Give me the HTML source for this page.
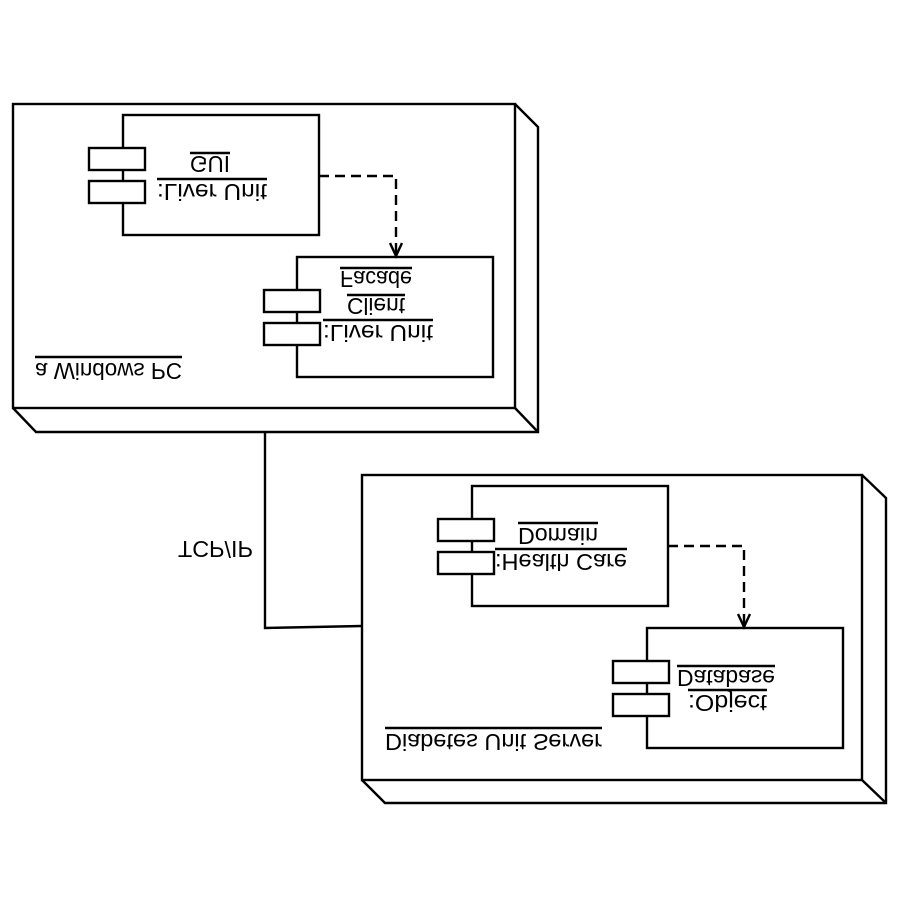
<!DOCTYPE html>
<html><head><meta charset="utf-8"><style>html,body{margin:0;padding:0;background:#fff}svg{display:block}</style></head>
<body>
<svg width="900" height="900" viewBox="0 0 900 900" xmlns="http://www.w3.org/2000/svg">
<rect width="900" height="900" fill="#fff"/>
<g fill="none" stroke="#000" stroke-width="2.4">
<rect x="13" y="104" width="502" height="304"/>
<polyline points="13,408 36,432 538,432 538,127 515,104"/>
<line x1="515" y1="408" x2="538" y2="432"/>
<rect x="123" y="115" width="196" height="120" fill="#fff"/>
<rect x="89" y="148" width="56" height="22" fill="#fff"/>
<rect x="89" y="181" width="56" height="22" fill="#fff"/>
<rect x="297" y="257" width="196" height="120" fill="#fff"/>
<rect x="264" y="290" width="56" height="22" fill="#fff"/>
<rect x="264" y="323" width="56" height="22" fill="#fff"/>
<rect x="362" y="475" width="500" height="305"/>
<polyline points="362,780 385,803 886,803 886,498 862,475"/>
<line x1="862" y1="780" x2="886" y2="803"/>
<rect x="472" y="486" width="196" height="120" fill="#fff"/>
<rect x="438" y="519" width="56" height="22" fill="#fff"/>
<rect x="438" y="552" width="56" height="22" fill="#fff"/>
<rect x="647" y="628" width="196" height="120" fill="#fff"/>
<rect x="613" y="661" width="56" height="22" fill="#fff"/>
<rect x="613" y="694" width="56" height="22" fill="#fff"/>
<polyline points="265,432 265,628 362,626"/>
<polyline points="319,176 396,176 396,255" stroke-dasharray="10,6"/>
<polyline points="390,243 396,256 402,243"/>
<polyline points="668,546 744,546 744,626" stroke-dasharray="10,6"/>
<polyline points="738,614 744,627 750,614"/>
<line x1="190" y1="153" x2="230" y2="153"/>
<line x1="157" y1="179" x2="267" y2="179"/>
<line x1="340" y1="268" x2="412" y2="268"/>
<line x1="347" y1="295" x2="405" y2="295"/>
<line x1="323" y1="320" x2="433" y2="320"/>
<line x1="35" y1="357" x2="182" y2="357"/>
<line x1="518" y1="523" x2="598" y2="523"/>
<line x1="495" y1="549" x2="627" y2="549"/>
<line x1="677" y1="666" x2="775" y2="666"/>
<line x1="688" y1="690" x2="767" y2="690"/>
<line x1="385" y1="728" x2="602" y2="728"/>
</g>
<g font-family="Liberation Sans, sans-serif" font-size="23" fill="#000">
<text x="190" y="170" textLength="40" lengthAdjust="spacingAndGlyphs" transform="matrix(1 0 0 -1 0 326)">GUI</text>
<text x="157" y="198" textLength="110" lengthAdjust="spacingAndGlyphs" transform="matrix(1 0 0 -1 0 382)">:Liver Unit</text>
<text x="340" y="285" textLength="72" lengthAdjust="spacingAndGlyphs" transform="matrix(1 0 0 -1 0 556)">Facade</text>
<text x="347" y="312" textLength="58" lengthAdjust="spacingAndGlyphs" transform="matrix(1 0 0 -1 0 610)">Client</text>
<text x="323" y="339" textLength="110" lengthAdjust="spacingAndGlyphs" transform="matrix(1 0 0 -1 0 664)">:Liver Unit</text>
<text x="35" y="377" textLength="147" lengthAdjust="spacingAndGlyphs" transform="matrix(1 0 0 -1 0 740)">a Windows PC</text>
<text x="178" y="555" textLength="75" lengthAdjust="spacingAndGlyphs" transform="matrix(1 0 0 -1 0 1096)">TCP/IP</text>
<text x="518" y="542" textLength="80" lengthAdjust="spacingAndGlyphs" transform="matrix(1 0 0 -1 0 1070)">Domain</text>
<text x="495" y="568" textLength="132" lengthAdjust="spacingAndGlyphs" transform="matrix(1 0 0 -1 0 1122)">:Health Care</text>
<text x="677" y="684" textLength="98" lengthAdjust="spacingAndGlyphs" transform="matrix(1 0 0 -1 0 1354)">Database</text>
<text x="688" y="709" textLength="79" lengthAdjust="spacingAndGlyphs" transform="matrix(1 0 0 -1 0 1404)">:Object</text>
<text x="385" y="748" textLength="217" lengthAdjust="spacingAndGlyphs" transform="matrix(1 0 0 -1 0 1482)">Diabetes Unit Server</text>
</g>
</svg>
</body></html>
